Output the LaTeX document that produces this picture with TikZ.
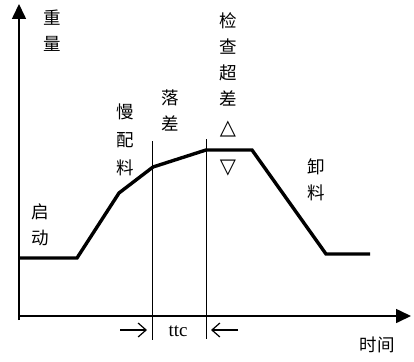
\documentclass[tikz,border=0pt]{standalone}
\usepackage{fontspec}
\setmainfont{Liberation Serif}
\newfontfamily\cjk{Noto Sans CJK SC}
\newfontfamily\symf{DejaVu Sans}
\usetikzlibrary{arrows.meta}
\begin{document}
\begin{tikzpicture}[x=1pt,y=-1pt,
  axis/.style={line width=1.6pt,-{Triangle[length=15pt,width=14pt]}},
  curve/.style={line width=3.4pt,line join=miter},
  marker/.style={line width=0.8pt},
  dimarrow/.style={line width=1.2pt,-{Straight Barb[length=8pt,width=14pt]}},
  lbl/.style={font=\cjk\fontsize{17.5}{26}\selectfont,align=center,inner sep=0pt},
  sym/.style={font=\symf\fontsize{21}{22}\selectfont,inner sep=0pt}]
\useasboundingbox (0,0) rectangle (414,361);
% axes
\coordinate (o) at (19,320);
\coordinate (ytop) at (19,4);
\coordinate (xo) at (18,316);
\coordinate (xend) at (411,316);
\draw[axis] (o) -- (ytop);
\draw[axis] (xo) -- (xend);
% curve points
\coordinate (p0) at (19,258);
\coordinate (p1) at (77,258);
\coordinate (p2) at (119,193);
\coordinate (p3) at (153,167);
\coordinate (p4) at (206,150);
\coordinate (p5) at (252,150);
\coordinate (p6) at (326,254);
\coordinate (p7) at (370,254);
\draw[curve] (p0) -- (p1) -- (p2) -- (p3) -- (p4) -- (p5) -- (p6) -- (p7);
% markers
\coordinate (m1t) at (152,141);
\coordinate (m1b) at (152,340);
\coordinate (m2t) at (206,139);
\coordinate (m2b) at (206,339);
\draw[marker] (m1t) -- (m1b);
\draw[marker] (m2t) -- (m2b);
% ttc arrows
\coordinate (a1s) at (120,330);
\coordinate (a1e) at (147,330);
\coordinate (a2s) at (238,330);
\coordinate (a2e) at (211,330);
\draw[dimarrow] (a1s) -- (a1e);
\draw[dimarrow] (a2s) -- (a2e);
\node[inner sep=0pt,font=\fontsize{19}{20}\selectfont] (ttc) at (178,331) {ttc};
% labels
\node[lbl] (zl) at (52,31) {重\\量};
\node[lbl,font=\cjk\fontsize{17.5}{28}\selectfont] (mpl) at (125,140) {慢\\配\\料};
\node[lbl] (lc) at (170,110) {落\\差};
\node[lbl] (jc) at (228,59) {检\\查\\超\\差};
\node[sym] (up) at (228,129) {△};
\node[sym] (dn) at (228,168) {▽};
\node[lbl] (xl) at (316,180) {卸\\料};
\node[lbl] (qd) at (40,225) {启\\动};
\node[lbl] (sj) at (377,345) {时间};
\end{tikzpicture}
\end{document}
